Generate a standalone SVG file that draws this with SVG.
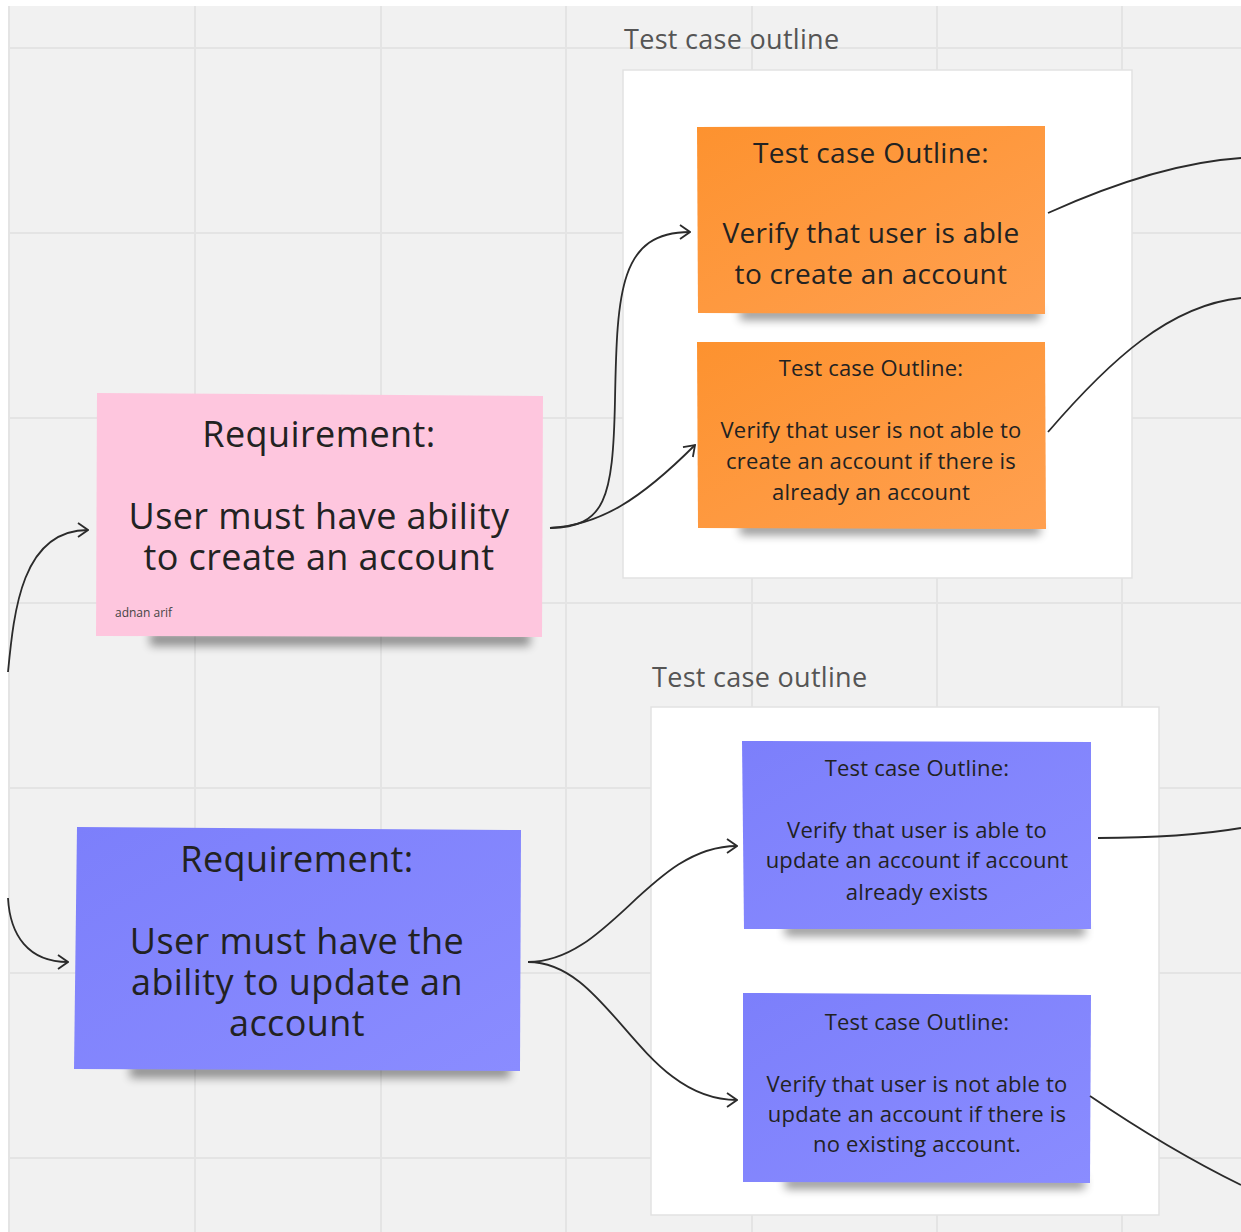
<svg xmlns="http://www.w3.org/2000/svg" width="1241" height="1232" viewBox="0 0 1241 1232">
<defs>
<style>
.t{font-family:"Open Sans","Liberation Sans",sans-serif;fill:#222;text-anchor:middle}
.big{font-size:36px;letter-spacing:0.4px}
.mid{font-size:28px;letter-spacing:0.3px}
.sm{font-size:22px;letter-spacing:0.2px}
.frame-title{font-family:"Open Sans","Liberation Sans",sans-serif;fill:#555;font-size:27px;letter-spacing:0.3px}
.grid{stroke:#e4e4e4;stroke-width:2}
.conn{fill:none;stroke:#2b2b2b;stroke-width:1.8}
.sh{fill:#000;opacity:0.4;filter:url(#blur)}
</style>
<filter id="blur" x="-20%" y="-100%" width="140%" height="300%"><feGaussianBlur stdDeviation="5"/></filter>
<marker id="arr" viewBox="0 0 12 16" refX="11" refY="8" markerWidth="12" markerHeight="16" markerUnits="userSpaceOnUse" orient="auto">
<path d="M1,1 L11,8 L1,15" fill="none" stroke="#2b2b2b" stroke-width="1.8"/>
</marker>
<linearGradient id="og" x1="0" y1="0" x2="1" y2="1"><stop offset="0" stop-color="#fd922f"/><stop offset="1" stop-color="#ffa050"/></linearGradient>
<linearGradient id="bg" x1="0" y1="0" x2="1" y2="1"><stop offset="0" stop-color="#7c7ffb"/><stop offset="1" stop-color="#8a8cff"/></linearGradient>
</defs>
<rect width="1241" height="1232" fill="#ffffff"/>
<rect x="8" y="6" width="1233" height="1226" fill="#f1f1f1"/>
<g id="grid">
<line class="grid" x1="195" y1="6" x2="195" y2="1232"/>
<line class="grid" x1="381" y1="6" x2="381" y2="1232"/>
<line class="grid" x1="566" y1="6" x2="566" y2="1232"/>
<line class="grid" x1="752" y1="6" x2="752" y2="1232"/>
<line class="grid" x1="937" y1="6" x2="937" y2="1232"/>
<line class="grid" x1="1122" y1="6" x2="1122" y2="1232"/>
<line class="grid" x1="8" y1="48" x2="1241" y2="48"/>
<line class="grid" x1="8" y1="233" x2="1241" y2="233"/>
<line class="grid" x1="8" y1="418" x2="1241" y2="418"/>
<line class="grid" x1="8" y1="603" x2="1241" y2="603"/>
<line class="grid" x1="8" y1="788" x2="1241" y2="788"/>
<line class="grid" x1="8" y1="973" x2="1241" y2="973"/>
<line class="grid" x1="8" y1="1158" x2="1241" y2="1158"/>
<line class="grid" x1="9" y1="6" x2="9" y2="1232"/>
</g>
<g id="frame-top">
<text class="frame-title" x="624" y="49">Test case outline</text>
<rect x="623" y="70" width="509" height="508" fill="#fff" stroke="#e2e2e2" stroke-width="1.5"/>
</g>
<g id="frame-bottom">
<text class="frame-title" x="652" y="687">Test case outline</text>
<rect x="651" y="707" width="508" height="508" fill="#fff" stroke="#e2e2e2" stroke-width="1.5"/>
</g>
<g id="node-req1">
<rect class="sh" x="150" y="632" width="380" height="14"/>
<path d="M97,393 L543,396 L542,637 L96,636 Z" fill="#fec6de"/>
<text class="t big" x="319" y="447">Requirement:</text>
<text class="t big" x="319" y="529">User must have ability<tspan x="319" dy="41">to create an account</tspan></text>
<text x="115" y="617" font-family="Open Sans, Liberation Sans, sans-serif" font-size="12" fill="#444">adnan arif</text>
</g>
<g id="node-req2">
<rect class="sh" x="130" y="1064" width="380" height="14"/>
<path d="M77,827 L521,830 L520,1071 L74,1069 Z" fill="url(#bg)"/>
<text class="t big" x="297" y="872">Requirement:</text>
<text class="t big" x="297" y="954">User must have the<tspan x="297" dy="41">ability to update an</tspan><tspan x="297" dy="41">account</tspan></text>
</g>
<g id="node-tc1">
<rect class="sh" x="740" y="308" width="300" height="12"/>
<path d="M697,127 L1045,126 L1045,314 L698,313 Z" fill="url(#og)"/>
<text class="t mid" x="871" y="163">Test case Outline:</text>
<text class="t mid" x="871" y="243">Verify that user is able<tspan x="871" dy="41">to create an account</tspan></text>
</g>
<g id="node-tc2">
<rect class="sh" x="740" y="523" width="300" height="12"/>
<path d="M697,342 L1045,342 L1046,529 L698,528 Z" fill="url(#og)"/>
<text class="t sm" x="871" y="376">Test case Outline:</text>
<text class="t sm" x="871" y="438">Verify that user is not able to<tspan x="871" dy="31">create an account if there is</tspan><tspan x="871" dy="31">already an account</tspan></text>
</g>
<g id="node-tc3">
<rect class="sh" x="785" y="924" width="300" height="12"/>
<path d="M742,741 L1091,742 L1091,929 L744,929 Z" fill="url(#bg)"/>
<text class="t sm" x="917" y="776">Test case Outline:</text>
<text class="t sm" x="917" y="838">Verify that user is able to<tspan x="917" dy="30">update an account if account</tspan><tspan x="917" dy="32">already exists</tspan></text>
</g>
<g id="node-tc4">
<rect class="sh" x="785" y="1177" width="300" height="12"/>
<path d="M743,993 L1091,995 L1090,1183 L743,1182 Z" fill="url(#bg)"/>
<text class="t sm" x="917" y="1030">Test case Outline:</text>
<text class="t sm" x="917" y="1092">Verify that user is not able to<tspan x="917" dy="30">update an account if there is</tspan><tspan x="917" dy="30">no existing account.</tspan></text>
</g>
<g id="connectors">
<path class="conn" d="M8,672 C14,610 22,530 88,530" marker-end="url(#arr)"/>
<path class="conn" d="M8,898 C10,935 28,962 68,962" marker-end="url(#arr)"/>
<path class="conn" d="M550,528 C605,527 613,500 615,400 C617,290 620,232 690,232" marker-end="url(#arr)"/>
<path class="conn" d="M550,528 C600,525 640,500 695,445" marker-end="url(#arr)"/>
<path class="conn" d="M1048,213 C1110,185 1180,162 1241,158"/>
<path class="conn" d="M1048,432 C1110,360 1170,305 1241,298"/>
<path class="conn" d="M528,962 C610,962 650,846 737,846" marker-end="url(#arr)"/>
<path class="conn" d="M528,962 C610,962 640,1100 737,1100" marker-end="url(#arr)"/>
<path class="conn" d="M1098,838 C1160,838 1200,835 1241,828"/>
<path class="conn" d="M1090,1096 C1140,1130 1190,1160 1241,1185"/>
</g>
</svg>
